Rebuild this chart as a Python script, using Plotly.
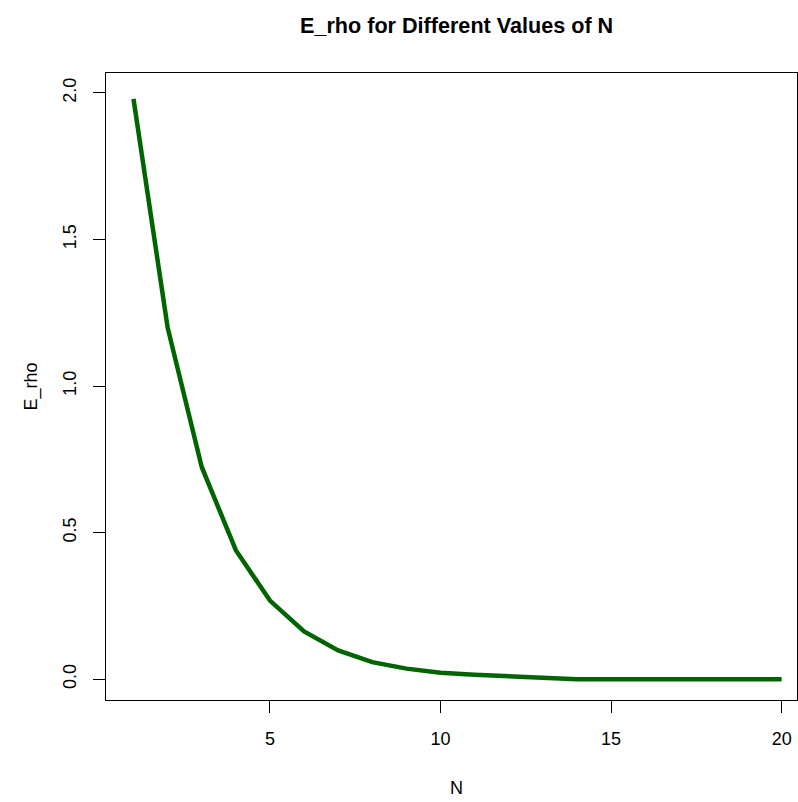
import plotly.graph_objects as go

# Expected rho error as the number of terms N grows
n_values = list(range(1, 21))
e_rho = [1.98, 1.20, 0.724, 0.44, 0.268, 0.163, 0.098, 0.058, 0.036, 0.022,
         0.015, 0.011, 0.007, 0.0, 0.0, 0.0, 0.0, 0.0, 0.0, 0.0]

x_ticks = [5, 10, 15, 20]
y_ticks = [0.0, 0.5, 1.0, 1.5, 2.0]

W, H = 798, 802
L, R, T, B = 106, 0.5, 73, 102

fig = go.Figure()
fig.add_trace(go.Scatter(
    x=n_values, y=e_rho, mode="lines",
    line=dict(color="#006400", width=4.5),
    hoverinfo="skip", showlegend=False,
))

family = "Liberation Sans, Arial, sans-serif"
font = dict(family=family, color="black", size=18)

axis_common = dict(
    showgrid=False, zeroline=False, showline=True, mirror=True,
    linecolor="black", linewidth=1, ticks="outside", ticklen=12,
    tickcolor="black", tickwidth=1, tickfont=font,
)

fig.update_layout(
    width=W, height=H,
    margin=dict(l=L, r=R, t=T, b=B, pad=0),
    paper_bgcolor="white", plot_bgcolor="white",
    font=font,
    xaxis=dict(range=[0.194, 20.45], tickvals=x_ticks, ticklabelstandoff=10,
               **axis_common),
    yaxis=dict(range=[-0.071, 2.068], tickvals=y_ticks, tickformat=".1f",
               tickangle=-90, ticklabelstandoff=10, **axis_common),
    annotations=[
        dict(text="<b>E_rho for Different Values of N</b>", xref="paper", yref="paper",
             x=0.5076, y=1, yshift=48, xanchor="center", yanchor="middle",
             showarrow=False, font=dict(family=family, size=21.6, color="black")),
        dict(text="N", xref="paper", yref="paper", x=0.5076, y=0, yshift=-88,
             xanchor="center", yanchor="middle", showarrow=False, font=font),
        dict(text="E_rho", xref="paper", yref="paper", x=0, xshift=-75, y=0.5,
             xanchor="center", yanchor="middle", textangle=-90,
             showarrow=False, font=font),
    ],
)

fig.write_html("out.html")
